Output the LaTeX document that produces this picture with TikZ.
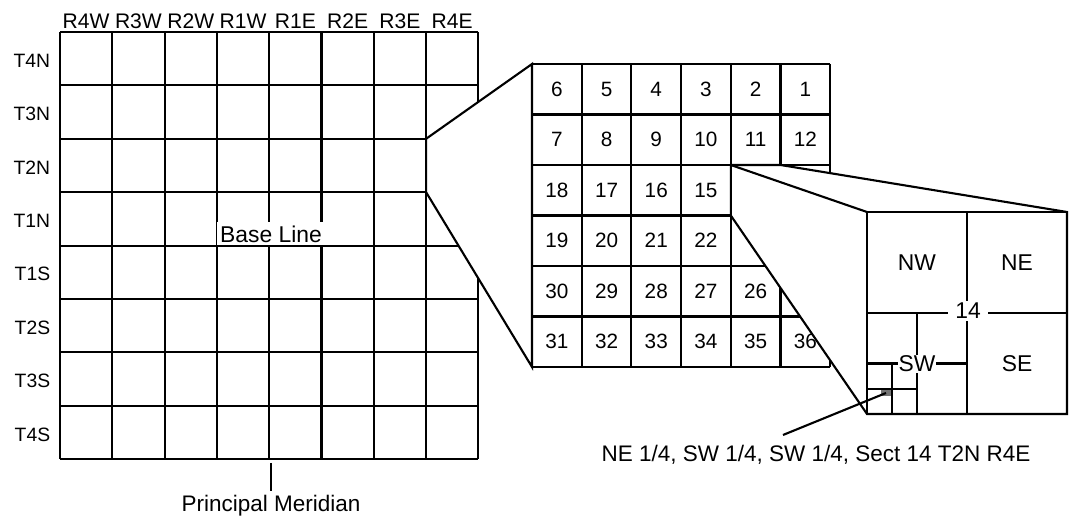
\documentclass[tikz,border=0pt]{standalone}
\usepackage{fontspec}
\setmainfont{Liberation Sans}
\usetikzlibrary{positioning}
\tikzset{
  rlab/.style={font=\fontsize{12}{14}\selectfont, inner sep=1pt},
  tlab/.style={font=\fontsize{11}{13}\selectfont, anchor=east, inner sep=1pt},
  secnum/.style={font=\fontsize{11.8}{13}\selectfont, inner sep=1pt},
  qlab/.style={font=\fontsize{13}{15}\selectfont, inner sep=1pt},
  cutlab/.style={fill=white, inner sep=0.5pt, font=\fontsize{13}{15}\selectfont},
  lab/.style={font=\fontsize{12.8}{15}\selectfont, inner sep=1pt},
  zoomface/.style={fill=white, draw=black, line join=miter},
  patch/.style={fill=black!55, inner sep=0pt, minimum width=6pt,
                minimum height=3.5pt},
}

\begin{document}
\begin{tikzpicture}[x=0.02cm, y=-0.02cm, line width=1.2pt]
\useasboundingbox (0,0) rectangle (1073,519);

% township grid
\def\gx{60}
\def\gy{32}
\def\gw{52.3}
\def\gh{53.4}
\foreach \i in {0,...,8}
  \draw (\gx+\i*\gw, \gy) -- (\gx+\i*\gw, \gy+8*\gh);
\foreach \j in {0,...,8}
  \draw (\gx, \gy+\j*\gh) -- (\gx+8*\gw, \gy+\j*\gh);

\foreach \r [count=\i from 0] in {R4W,R3W,R2W,R1W,R1E,R2E,R3E,R4E}
  \node[rlab] (col-\r) at (\gx+\i*\gw+0.5*\gw, 21) {\r};
\foreach \t [count=\j from 0] in {T4N,T3N,T2N,T1N,T1S,T2S,T3S,T4S}
  \node[tlab] (row-\t) at (\gx-7, \gy+\j*\gh+0.5*\gh+2) {\t};

\node[cutlab, inner sep=2pt] (baseline) at (271, 234) {Base Line};
\draw (\gx, \gy+4*\gh) -- (\gx+8*\gw, \gy+4*\gh);

\coordinate (pm-top) at (271, 463);
\coordinate (pm-end) at (271, 491);
\draw (pm-top) -- (pm-end);
\node[lab, below=1pt of pm-end] (meridian) {Principal Meridian};

% township T2N R4E, enlarged
\def\mx{532}
\def\my{64}
\def\mw{49.7}
\def\mh{50.5}
\coordinate (t2n-nw) at (\gx+7*\gw, \gy+2*\gh);
\coordinate (t2n-sw) at (\gx+7*\gw, \gy+3*\gh);
\coordinate (twp-nw) at (\mx, \my);
\coordinate (twp-sw) at (\mx, \my+6*\mh);
\filldraw[zoomface] (t2n-nw) -- (twp-nw) -- (twp-sw) -- (t2n-sw) -- cycle;

\foreach \i in {0,...,6}
  \draw (\mx+\i*\mw, \my) -- (\mx+\i*\mw, \my+6*\mh);
\foreach \j in {0,...,6}
  \draw (\mx, \my+\j*\mh) -- (\mx+6*\mw, \my+\j*\mh);

\foreach \j in {0,...,5}
  \foreach \i in {0,...,5} {
    \pgfmathtruncatemacro\n{mod(\j,2)==1 ? 6*\j+1+\i : 6*\j+6-\i}
    \pgfmathtruncatemacro\hid{(\i>3)*(\j>1)*(\j<4) + (\i==5)*(\j==4)}
    \ifnum\hid=0
      \node[secnum] (sec-\n) at (\mx+\i*\mw+0.5*\mw, \my+\j*\mh+0.5*\mh) {\n};
    \fi
  }

% section 14, enlarged
\coordinate (s14-nw) at (\mx+4*\mw, \my+2*\mh);
\coordinate (s14-ne) at (\mx+5*\mw, \my+2*\mh);
\coordinate (s14-sw) at (\mx+4*\mw, \my+3*\mh);
\coordinate (q-nw) at (867, 212);
\coordinate (q-ne) at (1067, 212);
\coordinate (q-se) at (1067, 414);
\coordinate (q-sw) at (867, 414);
\filldraw[zoomface] (s14-nw) -- (s14-ne) -- (q-ne) -- (q-se) -- (q-sw)
  -- (s14-sw) -- cycle;
\draw (s14-nw) -- (q-nw);
\draw (q-nw) rectangle (q-se);

\draw (967, 212) -- (967, 414);
\draw (867, 313) -- (1067, 313);
\draw (917, 313) -- (917, 414);
\draw (867, 363.5) -- (967, 363.5);
\draw (892, 363.5) -- (892, 414);
\draw (867, 389) -- (917, 389);

\node[qlab] (nw) at (917, 262.5) {NW};
\node[qlab] (ne) at (1017, 262.5) {NE};
\node[qlab] (se) at (1017, 363.5) {SE};
\node[cutlab, inner xsep=4pt, inner ysep=1pt] (s14) at (968, 311) {14};
\node[cutlab] (sw) at (917, 364) {SW};

\node[patch] (ne-sw-sw) at (886, 393) {};
\coordinate (ptr) at (783, 435);
\draw (ne-sw-sw.center) -- (ptr);
\node[lab] (desc) at (816, 454.5) {NE 1/4, SW 1/4, SW 1/4, Sect 14 T2N R4E};

\end{tikzpicture}
\end{document}
